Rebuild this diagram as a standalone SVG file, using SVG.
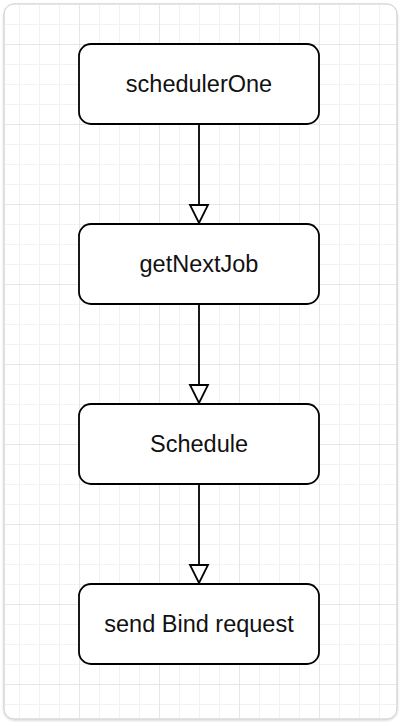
<svg xmlns="http://www.w3.org/2000/svg" width="402" height="724" viewBox="0 0 402 724">
  <defs>
    <pattern id="grid" x="79" y="44" width="80" height="80" patternUnits="userSpaceOnUse">
      <path d="M0.5 20.5H80M0.5 40.5H80M0.5 60.5H80M20.5 0V80M40.5 0V80M60.5 0V80" stroke="#f2f2f2" stroke-width="1" fill="none"/>
      <path d="M0 0.5H80M0.5 0V80" stroke="#e6e6e6" stroke-width="1" fill="none"/>
    </pattern>
    <clipPath id="frameClip">
      <rect x="4" y="4" width="393" height="715" rx="10"/>
    </clipPath>
    <filter id="shadow" x="-5%" y="-5%" width="110%" height="110%">
      <feDropShadow dx="0" dy="1" stdDeviation="1" flood-color="#000" flood-opacity="0.18"/>
    </filter>
  </defs>
  <style>
    .node rect { fill: #ffffff; stroke: #000000; stroke-width: 1.8; }
    .node text { font-family: "Liberation Sans", Arial, Helvetica, sans-serif; font-size: 23.5px; fill: #111111; text-anchor: middle; }
    .edge line { stroke: #000000; stroke-width: 1.8; }
    .edge polygon { fill: #ffffff; stroke: #000000; stroke-width: 1.8; stroke-linejoin: miter; }
  </style>
  <rect x="0" y="0" width="402" height="724" fill="#ffffff"/>
  <rect x="4" y="4" width="393" height="715" rx="10" fill="#ffffff" stroke="#d9d9d9" stroke-width="1" filter="url(#shadow)"/>
  <rect x="4" y="4" width="393" height="715" fill="url(#grid)" clip-path="url(#frameClip)"/>
  <rect x="4" y="4" width="393" height="715" rx="10" fill="none" stroke="#d6d6d6" stroke-width="1"/>

  <g id="connectors" class="edge">
    <line x1="199" y1="124" x2="199" y2="205"/>
    <polygon points="190,205 208,205 199,223"/>
    <line x1="199" y1="304" x2="199" y2="385"/>
    <polygon points="190,385 208,385 199,403"/>
    <line x1="199" y1="484" x2="199" y2="565"/>
    <polygon points="190,565 208,565 199,583"/>
  </g>

  <g id="schedulerOne" class="node">
    <rect x="79" y="44" width="240" height="80" rx="12"/>
    <text x="199" y="92">schedulerOne</text>
  </g>
  <g id="getNextJob" class="node">
    <rect x="79" y="224" width="240" height="80" rx="12"/>
    <text x="199" y="272">getNextJob</text>
  </g>
  <g id="Schedule" class="node">
    <rect x="79" y="404" width="240" height="80" rx="12"/>
    <text x="199" y="452">Schedule</text>
  </g>
  <g id="sendBindRequest" class="node">
    <rect x="79" y="584" width="240" height="80" rx="12"/>
    <text x="199" y="632">send Bind request</text>
  </g>
</svg>
